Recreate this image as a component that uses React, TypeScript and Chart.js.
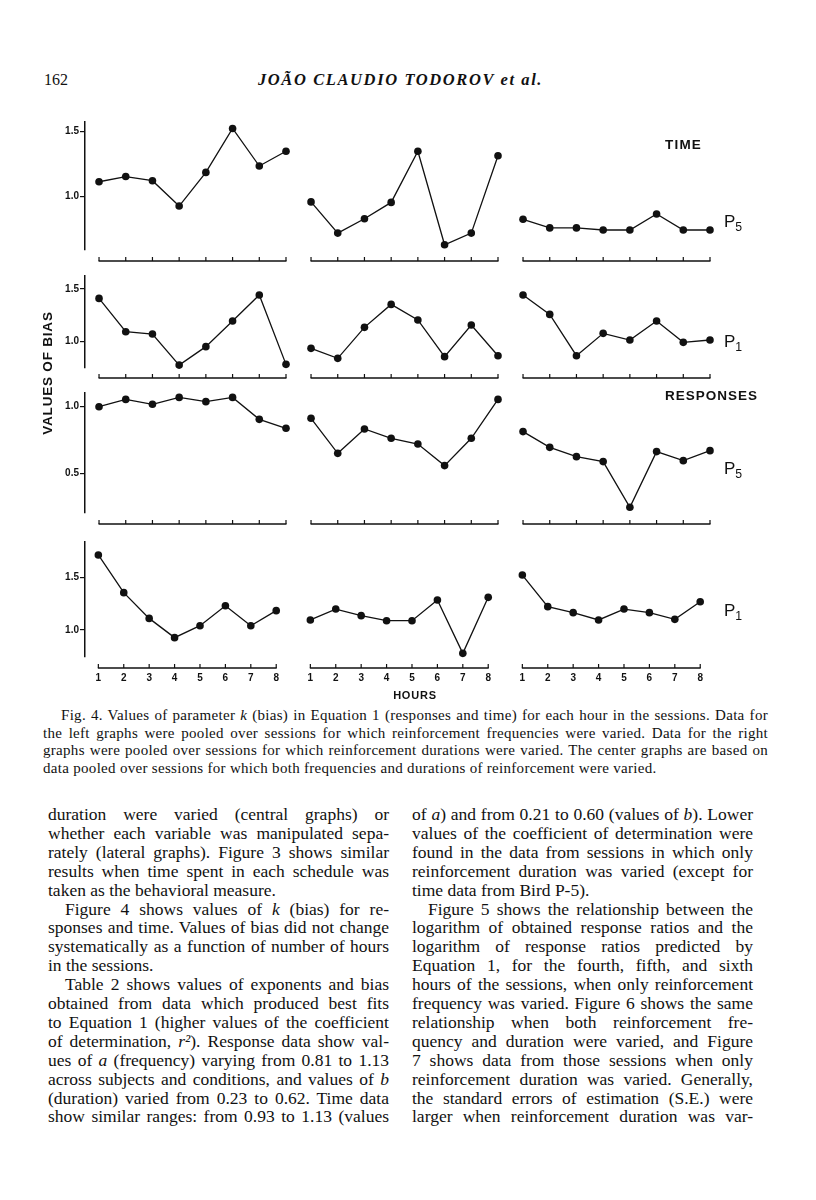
import React, { useEffect, useRef } from "react";
import { Chart, registerables } from "chart.js";

Chart.register(...registerables);

// ---------- data ----------
const hours = [1, 2, 3, 4, 5, 6, 7, 8];
const hourLabels = ["1", "2", "3", "4", "5", "6", "7", "8"];

// TIME, bird P5 (frequency varied / both varied / duration varied)
const timeP5Freq = [1.115, 1.155, 1.123, 0.928, 1.187, 1.525, 1.236, 1.35];
const timeP5Both = [0.96, 0.72, 0.83, 0.956, 1.35, 0.63, 0.72, 1.315];
const timeP5Dur = [0.826, 0.76, 0.76, 0.744, 0.744, 0.867, 0.744, 0.744];

// TIME, bird P1
const timeP1Freq = [1.411, 1.095, 1.073, 0.778, 0.953, 1.196, 1.443, 0.785];
const timeP1Both = [0.937, 0.842, 1.136, 1.354, 1.206, 0.858, 1.158, 0.867];
const timeP1Dur = [1.443, 1.259, 0.867, 1.079, 1.016, 1.196, 0.994, 1.016];

// RESPONSES, bird P5
const respP5Freq = [1.0, 1.055, 1.018, 1.07, 1.038, 1.07, 0.905, 0.838];
const respP5Both = [0.913, 0.65, 0.833, 0.763, 0.72, 0.558, 0.763, 1.055];
const respP5Dur = [0.813, 0.695, 0.625, 0.588, 0.245, 0.663, 0.595, 0.67];

// RESPONSES, bird P1
const respP1Freq = [1.717, 1.357, 1.111, 0.927, 1.041, 1.232, 1.041, 1.185];
const respP1Both = [1.096, 1.2, 1.137, 1.089, 1.089, 1.287, 0.777, 1.312];
const respP1Dur = [1.525, 1.223, 1.166, 1.096, 1.2, 1.166, 1.102, 1.27];

// y tick labels per row
const yTicksRow1 = [1.0, 1.5];
const yTicksRow2 = [1.0, 1.5];
const yTicksRow3 = [0.5, 1.0];
const yTicksRow4 = [1.0, 1.5];

// axis ranges per row
const yRangeRow1 = [0.59, 1.5746];
const yRangeRow2 = [0.7505, 1.6233];
const yRangeRow3 = [0.202, 1.103];
const yRangeRow4 = [0.742, 1.841];
const xRange = [0.4747, 8];

// ---------- layout ----------
const AREA_W = 201;
const PANEL_AREA_LEFT = [85, 297, 509];
const Y_AXIS_W = 40;
const PAD_TOP = 8;
const PAD_SIDE = 8;
const INK = "#111";

type RowCfg = {
  top: number;
  bottom: number;
  range: number[];
  ticks: number[];
  series: number[][];
  gap: number;
  showX: boolean;
};

const rows: RowCfg[] = [
  { top: 122, bottom: 250, range: yRangeRow1, ticks: yTicksRow1, series: [timeP5Freq, timeP5Both, timeP5Dur], gap: 11, showX: false },
  { top: 276, bottom: 368, range: yRangeRow2, ticks: yTicksRow2, series: [timeP1Freq, timeP1Both, timeP1Dur], gap: 10, showX: false },
  { top: 393, bottom: 513, range: yRangeRow3, ticks: yTicksRow3, series: [respP5Freq, respP5Both, respP5Dur], gap: 11, showX: false },
  { top: 542, bottom: 657, range: yRangeRow4, ticks: yTicksRow4, series: [respP1Freq, respP1Both, respP1Dur], gap: 11, showX: true },
];

const baselinePlugin = {
  id: "hourBaseline",
  afterDraw(chart: any, _args: any, opts: any) {
    const { ctx, chartArea } = chart;
    const xs = chart.scales.x;
    const y = chartArea.bottom + (opts.gap || 11);
    const x1 = xs.getPixelForValue(hours[0]);
    const x2 = xs.getPixelForValue(hours[hours.length - 1]);
    ctx.save();
    ctx.strokeStyle = INK;
    ctx.lineWidth = 1.6;
    ctx.beginPath();
    ctx.moveTo(x1 - 0.5, y);
    ctx.lineTo(x2 + 0.5, y);
    ctx.stroke();
    ctx.lineWidth = 1.2;
    ctx.beginPath();
    hours.forEach((h) => {
      const x = xs.getPixelForValue(h);
      ctx.moveTo(x, y);
      ctx.lineTo(x, y - 4);
    });
    ctx.stroke();
    ctx.restore();
  },
};

type PanelProps = {
  values: number[];
  row: RowCfg;
  col: number;
};

function Panel({ values, row, col }: PanelProps) {
  const ref = useRef<HTMLCanvasElement>(null);
  const showY = col === 0;
  const xH = row.showX ? 32 : 18;
  const padLeft = showY ? 0 : PAD_SIDE;
  const yW = showY ? Y_AXIS_W : 0;
  const left = PANEL_AREA_LEFT[col] - yW - padLeft;
  const top = row.top - PAD_TOP;
  const width = padLeft + yW + AREA_W + PAD_SIDE;
  const height = PAD_TOP + (row.bottom - row.top) + xH;

  useEffect(() => {
    const chart = new Chart(ref.current as HTMLCanvasElement, {
      type: "line",
      data: {
        datasets: [
          {
            data: hours.map((h, i) => ({ x: h, y: values[i] })),
            borderColor: INK,
            borderWidth: 1.3,
            pointRadius: 3.8,
            pointBackgroundColor: INK,
            pointBorderColor: INK,
            pointBorderWidth: 0,
            tension: 0,
            clip: false as any,
          },
        ],
      },
      options: {
        animation: false,
        responsive: false,
        devicePixelRatio: 1,
        events: [],
        layout: { padding: { left: padLeft, right: PAD_SIDE, top: PAD_TOP, bottom: 0 } },
        plugins: {
          legend: { display: false },
          tooltip: { enabled: false },
          hourBaseline: { gap: row.gap },
        } as any,
        scales: {
          x: {
            type: "linear",
            min: xRange[0],
            max: xRange[1],
            afterFit: (s: any) => {
              s.height = xH;
            },
            afterBuildTicks: (s: any) => {
              s.ticks = hours.map((v) => ({ value: v }));
            },
            border: { display: false },
            grid: { display: false, drawTicks: false },
            ticks: {
              display: row.showX,
              padding: 15,
              maxRotation: 0,
              autoSkip: false,
              color: INK,
              font: { family: "Liberation Sans", size: 10, weight: "bold" },
              callback: (v: any) => hourLabels[hours.indexOf(Number(v))] ?? "",
            },
          },
          y: {
            display: showY,
            min: row.range[0],
            max: row.range[1],
            afterFit: (s: any) => {
              s.width = showY ? Y_AXIS_W : 0;
            },
            afterBuildTicks: (s: any) => {
              s.ticks = row.ticks.map((v) => ({ value: v }));
            },
            border: { display: true, color: INK, width: 1.5 },
            grid: { drawOnChartArea: false, drawTicks: true, tickLength: 5, color: INK, lineWidth: 1.2 },
            ticks: {
              padding: 1,
              color: INK,
              font: { family: "Liberation Sans", size: 10, weight: "bold" },
              callback: (v: any) => Number(v).toFixed(1),
            },
          },
        },
      } as any,
      plugins: [baselinePlugin],
    });
    return () => chart.destroy();
  }, []);

  return (
    <canvas
      ref={ref}
      width={width}
      height={height}
      style={{ position: "absolute", left, top, width, height }}
    />
  );
}

// ---------- text ----------
function renderRich(s: string) {
  const parts = s.split("_");
  return parts.map((p, i) =>
    i % 2 === 1 ? (
      <i key={i}>{p}</i>
    ) : (
      <React.Fragment key={i}>{p}</React.Fragment>
    )
  );
}

type TLine = { t: string; ind?: boolean; j?: boolean };

const captionLines: TLine[] = [
  { t: "Fig. 4. Values of parameter _k_ (bias) in Equation 1 (responses and time) for each hour in the sessions. Data for", ind: true, j: true },
  { t: "the left graphs were pooled over sessions for which reinforcement frequencies were varied. Data for the right", j: true },
  { t: "graphs were pooled over sessions for which reinforcement durations were varied. The center graphs are based on", j: true },
  { t: "data pooled over sessions for which both frequencies and durations of reinforcement were varied." },
];

const leftCol: TLine[] = [
  { t: "duration were varied (central graphs) or", j: true },
  { t: "whether each variable was manipulated sepa-", j: true },
  { t: "rately (lateral graphs). Figure 3 shows similar", j: true },
  { t: "results when time spent in each schedule was", j: true },
  { t: "taken as the behavioral measure." },
  { t: "Figure 4 shows values of _k_ (bias) for re-", ind: true, j: true },
  { t: "sponses and time. Values of bias did not change", j: true },
  { t: "systematically as a function of number of hours", j: true },
  { t: "in the sessions." },
  { t: "Table 2 shows values of exponents and bias", ind: true, j: true },
  { t: "obtained from data which produced best fits", j: true },
  { t: "to Equation 1 (higher values of the coefficient", j: true },
  { t: "of determination, _r²_). Response data show val-", j: true },
  { t: "ues of _a_ (frequency) varying from 0.81 to 1.13", j: true },
  { t: "across subjects and conditions, and values of _b_", j: true },
  { t: "(duration) varied from 0.23 to 0.62. Time data", j: true },
  { t: "show similar ranges: from 0.93 to 1.13 (values", j: true },
];

const rightCol: TLine[] = [
  { t: "of _a_) and from 0.21 to 0.60 (values of _b_). Lower", j: true },
  { t: "values of the coefficient of determination were", j: true },
  { t: "found in the data from sessions in which only", j: true },
  { t: "reinforcement duration was varied (except for", j: true },
  { t: "time data from Bird P-5)." },
  { t: "Figure 5 shows the relationship between the", ind: true, j: true },
  { t: "logarithm of obtained response ratios and the", j: true },
  { t: "logarithm of response ratios predicted by", j: true },
  { t: "Equation 1, for the fourth, fifth, and sixth", j: true },
  { t: "hours of the sessions, when only reinforcement", j: true },
  { t: "frequency was varied. Figure 6 shows the same", j: true },
  { t: "relationship when both reinforcement fre-", j: true },
  { t: "quency and duration were varied, and Figure", j: true },
  { t: "7 shows data from those sessions when only", j: true },
  { t: "reinforcement duration was varied. Generally,", j: true },
  { t: "the standard errors of estimation (S.E.) were", j: true },
  { t: "larger when reinforcement duration was var-", j: true },
];

function TextBlock({
  lines,
  left,
  width,
  firstCenter,
  step,
  indent,
  fontSize,
  letterSpacing,
}: {
  lines: TLine[];
  left: number;
  width: number;
  firstCenter: number;
  step: number;
  indent: number;
  fontSize: number;
  letterSpacing: number;
}) {
  const lh = 20;
  return (
    <>
      {lines.map((ln, i) => {
        const ind = ln.ind ? indent : 0;
        return (
          <div
            key={i}
            style={{
              position: "absolute",
              left: left + ind,
              top: firstCenter + i * step - lh / 2,
              width: width - ind,
              height: lh,
              lineHeight: lh + "px",
              fontFamily: "'Liberation Serif', serif",
              fontSize,
              letterSpacing,
              color: INK,
              whiteSpace: "nowrap",
              textAlign: ln.j ? "justify" : "left",
              textAlignLast: ln.j ? "justify" : "left",
            } as React.CSSProperties}
          >
            {renderRich(ln.t)}
          </div>
        );
      })}
    </>
  );
}

const sans = "'Liberation Sans', Arial, sans-serif";

function Label({
  text,
  left,
  cy,
  size,
  weight,
  ls,
  sub,
}: {
  text: string;
  left: number;
  cy: number;
  size: number;
  weight?: string;
  ls?: number;
  sub?: string;
}) {
  return (
    <div
      style={{
        position: "absolute",
        left,
        top: cy - 10,
        height: 20,
        lineHeight: "20px",
        fontFamily: sans,
        fontSize: size,
        fontWeight: weight || "normal",
        letterSpacing: ls || 0,
        color: INK,
        whiteSpace: "nowrap",
      }}
    >
      {text}
      {sub ? (
        <span style={{ fontSize: size * 0.72, position: "relative", top: 4 }}>{sub}</span>
      ) : null}
    </div>
  );
}

export default function App() {
  return (
    <div
      style={{
        position: "absolute",
        left: 0,
        top: 0,
        width: 816,
        height: 1200,
        background: "#fff",
        overflow: "hidden",
      }}
    >
      {/* running head */}
      <div
        style={{
          position: "absolute",
          left: 44,
          top: 70,
          lineHeight: "20px",
          fontFamily: "'Liberation Serif', serif",
          fontSize: 16,
          color: INK,
        }}
      >
        162
      </div>
      <div
        style={{
          position: "absolute",
          left: 258,
          top: 70,
          lineHeight: "20px",
          fontFamily: "'Liberation Serif', serif",
          fontStyle: "italic",
          fontWeight: "bold",
          fontSize: 16.5,
          letterSpacing: 1.6,
          color: INK,
          whiteSpace: "nowrap",
        }}
      >
        JOÃO CLAUDIO TODOROV et al.
      </div>

      {/* panels */}
      {rows.map((row, r) =>
        row.series.map((vals, c) => <Panel key={r + "-" + c} values={vals} row={row} col={c} />)
      )}

      {/* figure labels */}
      <div
        style={{
          position: "absolute",
          left: 48 - 80,
          top: 373 - 9,
          width: 160,
          height: 18,
          lineHeight: "18px",
          textAlign: "center",
          fontFamily: sans,
          fontWeight: "bold",
          fontSize: 13.5,
          letterSpacing: 0.8,
          color: INK,
          transform: "rotate(-90deg)",
          transformOrigin: "50% 50%",
          whiteSpace: "nowrap",
        }}
      >
        VALUES OF BIAS
      </div>
      <Label text="TIME" left={665} cy={145} size={13.5} weight="bold" ls={1.2} />
      <Label text="RESPONSES" left={665} cy={396} size={13.5} weight="bold" ls={1.0} />
      <Label text="P" left={724} cy={222} size={17} sub="5" />
      <Label text="P" left={724} cy={342} size={17} sub="1" />
      <Label text="P" left={724} cy={469} size={17} sub="5" />
      <Label text="P" left={724} cy={611} size={17} sub="1" />
      <div
        style={{
          position: "absolute",
          left: 315,
          width: 200,
          top: 695 - 10,
          lineHeight: "20px",
          textAlign: "center",
          fontFamily: sans,
          fontWeight: "bold",
          fontSize: 11,
          letterSpacing: 0.8,
          color: INK,
        }}
      >
        HOURS
      </div>

      {/* caption */}
      <TextBlock
        lines={captionLines}
        left={43}
        width={725}
        firstCenter={715}
        step={17.7}
        indent={18}
        fontSize={15}
        letterSpacing={0.3}
      />

      {/* body */}
      <TextBlock lines={leftCol} left={48} width={341} firstCenter={814} step={18.9} indent={17} fontSize={17.5} letterSpacing={0} />
      <TextBlock lines={rightCol} left={412} width={341} firstCenter={814} step={18.9} indent={16} fontSize={17.5} letterSpacing={0} />
    </div>
  );
}
